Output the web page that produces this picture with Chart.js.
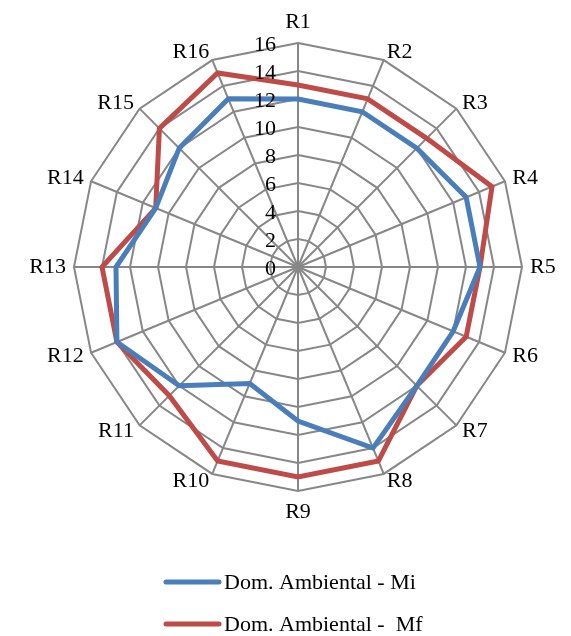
<!DOCTYPE html>
<html>
<head>
<meta charset="utf-8">
<script src="https://cdn.jsdelivr.net/npm/chart.js@4/dist/chart.umd.min.js"></script>
<style>
  html, body { margin: 0; padding: 0; background: #ffffff; }
  #wrap { width: 571px; height: 636px; }
</style>
</head>
<body>
<div id="wrap"><canvas id="radar" width="571" height="636"></canvas></div>
<script>
// Regions evaluated
const categories = ['R1', 'R2', 'R3', 'R4', 'R5', 'R6', 'R7', 'R8',
                    'R9', 'R10', 'R11', 'R12', 'R13', 'R14', 'R15', 'R16'];

// Environmental domain scores: initial (Mi) and final (Mf) measurement
const seriesMi = [12, 12, 12, 13, 13, 12, 12, 14, 11, 9, 12, 14, 13, 11, 12, 13];
const seriesMf = [13, 13, 13, 15, 13, 13, 12, 15, 15, 15, 13, 14, 14, 11, 14, 15];

const seriesNames = ['Dom. Ambiental - Mi', 'Dom. Ambiental -  Mf'];

// Radial axis values
const tickValues = [0, 2, 4, 6, 8, 10, 12, 14, 16];

const BLUE = '#4a7ebb';
const RED = '#be4b48';
const GRID = '#878787';
const FONT = '"Liberation Serif", "Times New Roman", serif';

// Draws the axis numbers to the left of the vertical spoke, and the region names round the rim
const axisText = {
  id: 'axisText',
  afterDatasetsDraw(chart) {
    const r = chart.scales.r;
    const ctx = chart.ctx;
    ctx.save();
    ctx.fillStyle = '#000000';
    ctx.font = '22px ' + FONT;
    ctx.textAlign = 'right';
    ctx.textBaseline = 'middle';
    tickValues.forEach(v => {
      const d = r.getDistanceFromCenterForValue(v);
      ctx.fillText(String(v), r.xCenter - 22, r.yCenter - d + 2);
    });

    const outer = r.getDistanceFromCenterForValue(16);
    categories.forEach((lab, i) => {
      const p = r.getPointPosition(i, outer + 8);
      const dx = p.x - r.xCenter;
      const dy = p.y - r.yCenter;
      if (Math.abs(dx) < 1) {
        ctx.textAlign = 'center';
        ctx.textBaseline = dy < 0 ? 'bottom' : 'top';
        ctx.fillText(lab, p.x, dy < 0 ? p.y - 2 : p.y + 2);
      } else {
        ctx.textAlign = dx > 0 ? 'left' : 'right';
        ctx.textBaseline = 'middle';
        ctx.fillText(lab, p.x, p.y);
      }
    });
    ctx.restore();
  },
  afterDraw(chart) {
    // Legend stacked below the plot
    const ctx = chart.ctx;
    ctx.save();
    const rows = [
      { color: BLUE, text: seriesNames[0], y: 582 },
      { color: RED, text: seriesNames[1], y: 624 }
    ];
    rows.forEach(row => {
      ctx.strokeStyle = row.color;
      ctx.lineWidth = 5;
      ctx.lineCap = 'round';
      ctx.beginPath();
      ctx.moveTo(166, row.y);
      ctx.lineTo(219, row.y);
      ctx.stroke();
      ctx.fillStyle = '#000000';
      ctx.font = '22px ' + FONT;
      ctx.textAlign = 'left';
      ctx.textBaseline = 'middle';
      ctx.fillText(row.text, 224, row.y + 1);
    });
    ctx.restore();
  }
};

new Chart(document.getElementById('radar'), {
  type: 'radar',
  data: {
    labels: categories,
    datasets: [
      { label: seriesNames[0], data: seriesMi, borderColor: BLUE, backgroundColor: 'rgba(0,0,0,0)',
        borderWidth: 5, fill: false, pointRadius: 0, tension: 0 },
      { label: seriesNames[1], data: seriesMf, borderColor: RED, backgroundColor: 'rgba(0,0,0,0)',
        borderWidth: 5, fill: false, pointRadius: 0, tension: 0 }
    ]
  },
  options: {
    responsive: false,
    animation: false,
    layout: { padding: { left: 74, top: 43, right: 49, bottom: 145 } },
    plugins: {
      legend: { display: false },
      tooltip: { enabled: false }
    },
    elements: { line: { borderJoinStyle: 'miter' } },
    scales: {
      r: {
        min: 0,
        max: 16,
        beginAtZero: true,
        ticks: { stepSize: 2, display: false },
        grid: { color: GRID, lineWidth: 2, circular: false },
        angleLines: { color: GRID, lineWidth: 2 },
        pointLabels: { display: false }
      }
    }
  },
  plugins: [axisText]
});
</script>
</body>
</html>
